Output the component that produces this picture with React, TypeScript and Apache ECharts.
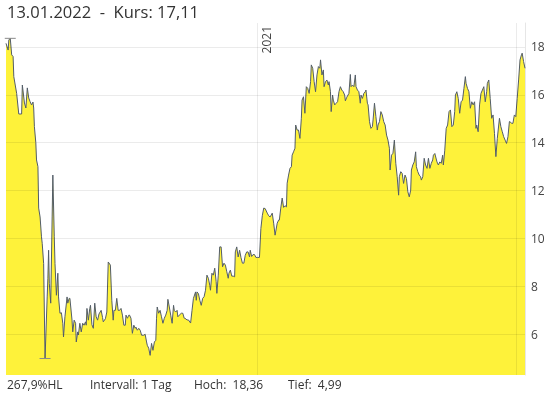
import React, { useEffect, useRef } from 'react';
import * as echarts from 'echarts';

// Day offsets from the first trading date (13.01.2020) and closing prices
const startDate = '2020-01-13';
const days = [
  0, 3, 4, 6, 8, 10, 11, 13, 15, 18,
  22, 23, 26, 28, 30, 32, 34, 36, 38, 39,
  40, 42, 43, 45, 46, 48, 50, 51, 53, 55,
  58, 59, 60, 61, 63, 65, 66, 68, 69, 71,
  73, 74, 76, 78, 80, 81, 83, 86, 87, 89,
  90, 93, 94, 96, 98, 99, 101, 102, 104, 106,
  108, 110, 112, 113, 114, 116, 118, 119, 121, 123,
  125, 127, 129, 131, 134, 136, 137, 140, 142, 144,
  147, 149, 151, 152, 154, 156, 158, 160, 162, 164,
  166, 168, 169, 171, 173, 174, 176, 178, 180, 182,
  183, 185, 187, 189, 191, 194, 196, 198, 199, 201,
  203, 205, 207, 209, 211, 212, 213, 215, 217, 219,
  221, 223, 225, 227, 228, 230, 232, 234, 236, 237,
  239, 241, 242, 244, 247, 249, 251, 252, 255, 257,
  260, 262, 264, 267, 268, 269, 271, 273, 275, 277,
  279, 281, 283, 285, 287, 288, 290, 292, 294, 296,
  297, 299, 301, 303, 305, 307, 309, 311, 313, 314,
  316, 318, 320, 322, 323, 325, 327, 329, 331, 333,
  335, 337, 339, 341, 343, 344, 346, 348, 350, 352,
  354, 357, 359, 361, 363, 365, 368, 370, 372, 375,
  377, 379, 382, 384, 385, 387, 389, 391, 393, 395,
  396, 398, 400, 402, 403, 405, 407, 408, 410, 412,
  414, 416, 417, 419, 421, 423, 425, 427, 429, 430,
  432, 434, 436, 438, 440, 442, 443, 445, 447, 448,
  450, 452, 454, 455, 457, 458, 460, 461, 463, 465,
  467, 469, 471, 473, 475, 477, 478, 480, 483, 485,
  486, 488, 490, 492, 493, 495, 497, 499, 500, 502,
  504, 506, 507, 509, 510, 512, 514, 516, 517, 519,
  521, 523, 524, 526, 528, 530, 532, 534, 536, 538,
  540, 541, 543, 545, 547, 549, 551, 553, 554, 556,
  558, 560, 562, 564, 566, 568, 570, 571, 573, 575,
  577, 578, 580, 582, 584, 585, 587, 589, 591, 593,
  595, 597, 599, 601, 602, 604, 607, 609, 611, 613,
  615, 616, 618, 620, 622, 624, 626, 628, 630, 632,
  633, 635, 637, 639, 641, 643, 645, 647, 648, 650,
  652, 654, 656, 658, 660, 662, 663, 665, 667, 669,
  671, 673, 675, 677, 678, 680, 682, 684, 686, 688,
  690, 692, 694, 695, 697, 699, 701, 703, 705, 707,
  709, 710, 712, 714, 716, 718, 720, 722, 724, 726,
  727, 729, 731,
];
const prices = [
  18.15, 17.87, 18.29, 18.36, 17.67, 17.6, 16.76, 16.41, 16.06, 15.2,
  15.2, 16.41, 15.66, 15.45, 16.29, 15.87, 15.71, 15.58, 15.7, 15.45,
  14.67, 14.0, 13.28, 13.0, 11.27, 10.9, 10.07, 9.8, 8.96, 4.99,
  7.56, 8.34, 9.51, 8.13, 7.3, 10.9, 12.65, 10.07, 8.96, 7.63,
  8.55, 7.56, 6.88, 6.9, 6.46, 5.89, 6.73, 7.56, 7.3, 7.5,
  7.5, 6.59, 6.1, 6.59, 6.46, 5.68, 6.1, 5.97, 6.46, 6.1,
  6.46, 6.38, 6.52, 6.38, 7.08, 6.59, 7.08, 7.21, 6.4, 6.25,
  7.3, 6.73, 6.59, 6.85, 7.0, 6.7, 6.52, 6.65, 6.93, 9.02,
  8.89, 7.42, 6.59, 7.0, 7.0, 7.5, 7.0, 7.0, 7.08, 6.8,
  6.38, 6.38, 6.8, 6.67, 6.8, 6.8, 6.67, 6.04, 6.38, 6.25,
  6.3, 6.17, 6.25, 6.17, 5.96, 5.96, 6.0, 5.68, 5.54, 5.42,
  5.12, 5.62, 5.33, 5.68, 5.75, 6.67, 7.14, 6.88, 7.0, 6.73,
  6.46, 6.67, 6.8, 7.0, 7.46, 7.14, 6.8, 6.46, 7.21, 7.0,
  6.93, 7.0, 6.73, 6.8, 6.88, 6.88, 6.67, 6.67, 6.6, 6.6,
  6.47, 7.0, 7.5, 7.77, 7.42, 7.77, 7.7, 7.42, 7.21, 7.5,
  7.57, 7.84, 8.47, 8.34, 8.05, 7.84, 8.55, 8.47, 8.76, 8.2,
  7.71, 8.47, 9.65, 9.65, 8.82, 8.97, 8.89, 8.61, 8.34, 8.55,
  8.68, 8.43, 8.43, 8.4, 9.44, 9.65, 9.23, 9.51, 9.2, 8.97,
  8.97, 9.3, 9.44, 9.44, 9.23, 9.51, 9.25, 9.33, 9.33, 9.21,
  9.21, 9.21, 10.42, 10.95, 11.27, 11.25, 11.06, 10.95, 10.9, 11.06,
  10.64, 10.14, 10.64, 10.77, 10.77, 11.27, 11.69, 11.3, 11.37, 11.32,
  12.31, 12.65, 12.93, 13.0, 13.48, 13.62, 13.77, 14.74, 14.53, 14.53,
  14.18, 15.02, 15.78, 15.92, 15.23, 16.34, 16.27, 16.06, 16.55, 17.25,
  17.11, 16.55, 16.13, 16.83, 17.18, 17.11, 17.46, 16.83, 17.04, 16.34,
  16.55, 16.62, 16.41, 16.55, 16.13, 15.3, 15.99, 15.78, 15.58, 15.65,
  15.71, 16.13, 16.34, 16.2, 16.13, 15.99, 15.75, 15.9, 16.06, 16.85,
  16.34, 16.41, 16.34, 16.83, 16.34, 16.2, 16.13, 15.65, 15.99, 15.85,
  16.06, 16.13, 16.2, 15.65, 15.58, 14.88, 14.6, 14.67, 14.95, 15.65,
  15.09, 14.53, 14.74, 14.88, 15.3, 15.16, 14.88, 14.74, 14.32, 14.11,
  13.77, 12.86, 13.48, 13.56, 14.11, 13.14, 12.58, 11.81, 12.58, 12.79,
  12.72, 12.3, 12.65, 12.51, 11.95, 11.74, 12.02, 12.86, 13.07, 13.2,
  13.62, 13.0, 12.79, 12.65, 12.58, 12.44, 12.58, 13.35, 13.07, 12.93,
  13.35, 12.93, 13.14, 13.28, 13.48, 13.55, 13.2, 13.07, 13.2, 13.14,
  13.48, 13.07, 13.69, 14.6, 14.74, 15.3, 15.37, 14.67, 14.74, 15.3,
  15.99, 16.13, 15.85, 15.23, 15.71, 15.78, 16.27, 16.76, 16.48, 16.27,
  16.13, 15.44, 15.71, 15.58, 15.71, 14.6, 14.74, 14.46, 15.58, 16.06,
  16.2, 16.34, 15.71, 16.13, 16.48, 16.62, 15.85, 15.02, 15.16, 14.39,
  13.42, 14.18, 14.74, 15.02, 14.67, 14.46, 14.25, 14.11, 13.97, 14.25,
  14.88, 14.88, 14.81, 14.81, 15.16, 15.09, 15.85, 16.62, 17.46, 17.67,
  17.74, 17.39, 17.11,
];
const yTicks = [6, 8, 10, 12, 14, 16, 18];
const yearMarks = ['2021-01-01', '2022-01-01'];
const yearLabels = ['2021', ''];
const intervalText = 'Intervall: 1 Tag';

const DAY = 86400000;
const FONT = "'Open Sans', sans-serif";
const fmt = (v: number, d = 2) => v.toFixed(d).replace('.', ',');
const pad = (n: number) => String(n).padStart(2, '0');

export default function App() {
  const ref = useRef<HTMLDivElement>(null);
  useEffect(() => {
    if (!ref.current) return;
    const chart = echarts.init(ref.current, null, { renderer: 'svg' });
    const t0 = Date.parse(startDate);
    const data = days.map((d, i) => [t0 + d * DAY, prices[i]]);
    const hi = Math.max(...prices);
    const lo = Math.min(...prices);
    const last = prices[prices.length - 1];
    const ld = new Date(t0 + days[days.length - 1] * DAY);
    const dateStr = `${pad(ld.getUTCDate())}.${pad(ld.getUTCMonth() + 1)}.${ld.getUTCFullYear()}`;
    const hl = ((hi - lo) / lo) * 100;

    const gridLine = { color: 'rgba(0,0,0,0.08)', width: 1, type: 'solid' as const };

    chart.setOption({
      animation: false,
      grid: { left: 6, right: 32, top: 23, bottom: 24, containLabel: false },
      xAxis: {
        type: 'time',
        min: t0,
        max: t0 + days[days.length - 1] * DAY,
        axisLine: { show: false },
        axisTick: { show: false },
        axisLabel: { show: false },
        splitLine: { show: false },
      },
      yAxis: {
        type: 'value',
        position: 'right',
        min: 4.3,
        max: 19,
        axisLine: { show: true, lineStyle: { color: '#e6e6e6' } },
        axisTick: { show: false },
        splitLine: { show: false },
        axisLabel: {
          customValues: yTicks,
          color: '#444',
          fontSize: 12,
          fontFamily: FONT,
          margin: 6,
        },
      },
      series: [
        {
          type: 'line',
          data,
          showSymbol: false,
          symbol: 'none',
          lineStyle: { color: '#535d68', width: 1 },
          areaStyle: { color: '#fef23a', opacity: 1 },
          markLine: {
            silent: true,
            symbol: 'none',
            animation: false,
            lineStyle: gridLine,
            label: { show: false },
            data: [
              ...yTicks.map((v) => ({ yAxis: v })),
              ...yearMarks.map((d, i) => ({
                xAxis: Date.parse(d),
                label: {
                  show: yearLabels[i] !== '',
                  formatter: yearLabels[i],
                  position: 'insideEndBottom',
                  color: '#444',
                  fontSize: 12,
                  fontFamily: FONT,
                  distance: 3,
                },
              })),
            ],
          },
          markPoint: {
            silent: true,
            symbol: 'rect',
            symbolSize: [11, 1],
            itemStyle: { color: '#8a8a8a' },
            label: { show: false },
            data: [{ type: 'max' }, { type: 'min' }],
          },
        },
      ],
      graphic: [
        {
          type: 'text',
          left: 7,
          top: 3,
          style: {
            text: `${dateStr}  -  Kurs: ${fmt(last)}`,
            fill: '#333',
            font: `16.5px ${FONT}`,
          },
        },
        ...[
          { x: 7, text: `${fmt(hl, 1)}%HL` },
          { x: 90, text: intervalText },
          { x: 194, text: `Hoch:  ${fmt(hi)}` },
          { x: 288, text: `Tief:  ${fmt(lo)}` },
        ].map((t) => ({
          type: 'text',
          x: t.x,
          y: 384,
          style: {
            text: t.text,
            fill: '#333',
            font: `12px ${FONT}`,
            verticalAlign: 'middle',
          },
        })),
      ],
    });
    return () => chart.dispose();
  }, []);
  return (
    <div
      ref={ref}
      style={{ position: 'fixed', left: 0, top: 0, width: 557, height: 399 }}
    />
  );
}
